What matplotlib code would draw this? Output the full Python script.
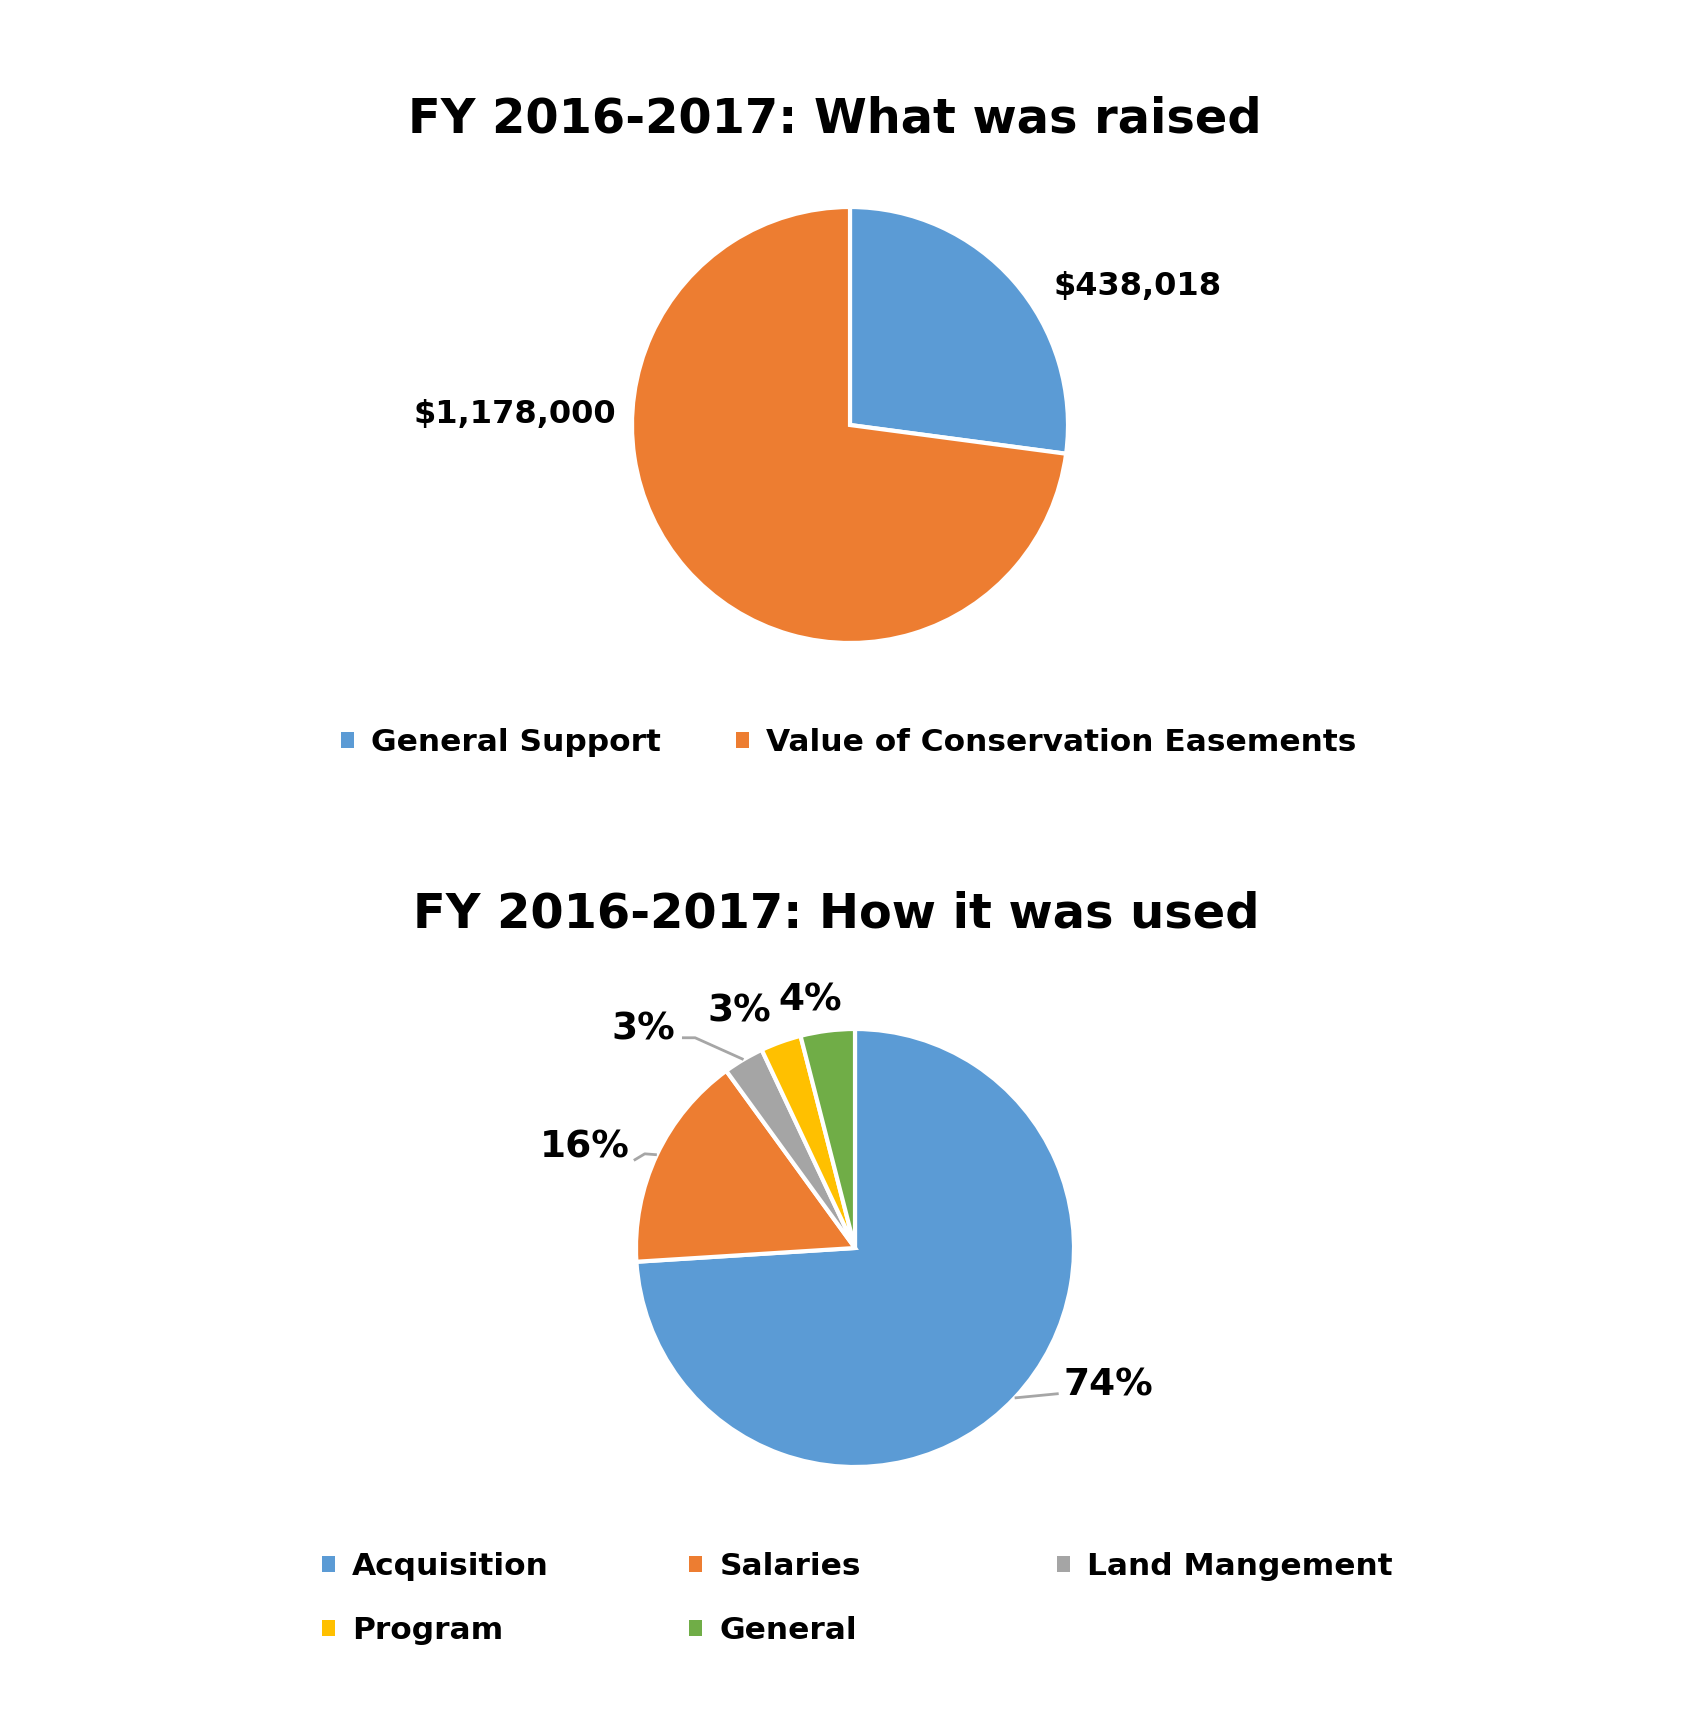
import numpy as np
import matplotlib
matplotlib.use("Agg")
import matplotlib.pyplot as plt
from matplotlib.patches import Patch

# data
raised_labels = ["General Support", "Value of Conservation Easements"]
raised_values = [438018, 1178000]
raised_colors = ["#5B9BD5", "#ED7D31"]

used_labels = ["Acquisition", "Salaries", "Land Mangement", "Program", "General"]
used_values = [74, 16, 3, 3, 4]
used_colors = ["#5B9BD5", "#ED7D31", "#A5A5A5", "#FFC000", "#70AD47"]

plt.rcParams['font.family'] = ['DejaVu Sans']
plt.rcParams['font.weight'] = 'bold'

W, H = 1700, 1709
fig = plt.figure(figsize=(W / 100, H / 100), dpi=100)

def pie_axes(cx, cy, r):
    # square axes 4 radii wide, data limits -2..2
    s = 4 * r
    ax = fig.add_axes([(cx - s / 2) / W, (H - cy - s / 2) / H, s / W, s / H])
    return ax

def edge_point(w, r=1.0):
    a = np.deg2rad((w.theta1 + w.theta2) / 2)
    return r * np.cos(a), r * np.sin(a)

# ---- top pie ----
ax1 = pie_axes(850, 425, 218)
w1, _ = ax1.pie(raised_values, colors=raised_colors, startangle=90, counterclock=False,
                radius=1, wedgeprops=dict(edgecolor="white", linewidth=3))
ax1.set_xlim(-2, 2)
ax1.set_ylim(-2, 2)
ax1.set_aspect('equal')
ax1.axis('off')
top_pos = [(1.317, 0.635), (-1.537, 0.05)]
for v, (x, y) in zip(raised_values, top_pos):
    ax1.text(x, y, f"${v:,}", ha='center', va='center', fontsize=23, fontweight='bold')

fig.text(0.491, 1 - 119 / H, "FY 2016-2017: What was raised", ha='center', va='center',
         fontsize=34.5, fontweight='bold')

# ---- bottom pie ----
ax2 = pie_axes(855, 1248, 219)
w2, _ = ax2.pie(used_values, colors=used_colors, startangle=90, counterclock=False,
                radius=1, wedgeprops=dict(edgecolor="white", linewidth=3))
ax2.set_xlim(-2, 2)
ax2.set_ylim(-2, 2)
ax2.set_aspect('equal')
ax2.axis('off')

# label layout: (text x, text y, ha, leader path or None)
lab_layout = [
    (0.95, -0.63, 'left', [(0.93, -0.665)]),
    (-1.03, 0.46, 'right', [(-0.96, 0.43), (-1.01, 0.40)]),
    (-0.82, 1.0, 'right', [(-0.73, 0.96), (-0.79, 0.96)]),
    (-0.53, 1.08, 'center', None),
    (-0.205, 1.13, 'center', None),
]
for w, v, (tx, ty, ha, path) in zip(w2, used_values, lab_layout):
    if path is not None:
        pts = [edge_point(w)] + path
        xs, ys = zip(*pts)
        ax2.plot(xs, ys, color="#A6A6A6", lw=2, solid_capstyle='butt')
    ax2.text(tx, ty, f"{v}%", ha=ha, va='center', fontsize=27, fontweight='bold')

fig.text(0.492, 1 - 914 / H, "FY 2016-2017: How it was used", ha='center', va='center',
         fontsize=34.5, fontweight='bold')

# ---- legends ----
def legend_at(labels, colors, x, y):
    handles = [Patch(facecolor=c, edgecolor='none') for c in colors]
    lg = fig.legend(handles, labels, loc='upper left', bbox_to_anchor=(x / W, 1 - y / H),
                    frameon=False, borderpad=0, borderaxespad=0, handlelength=0.42,
                    handleheight=0.42, handletextpad=0.55, labelspacing=1.12,
                    prop=dict(size=22.5, weight='bold'))
    return lg

top_leg_y = 744 - 16
legend_at(raised_labels[:1], raised_colors[:1], 341, top_leg_y)
legend_at(raised_labels[1:], raised_colors[1:], 736, top_leg_y)

bot_leg_y = 1568 - 16
legend_at([used_labels[0], used_labels[3]], [used_colors[0], used_colors[3]], 322, bot_leg_y)
legend_at([used_labels[1], used_labels[4]], [used_colors[1], used_colors[4]], 689, bot_leg_y)
legend_at([used_labels[2]], [used_colors[2]], 1057, bot_leg_y)

fig.savefig("out.png", dpi=100, facecolor='white')
